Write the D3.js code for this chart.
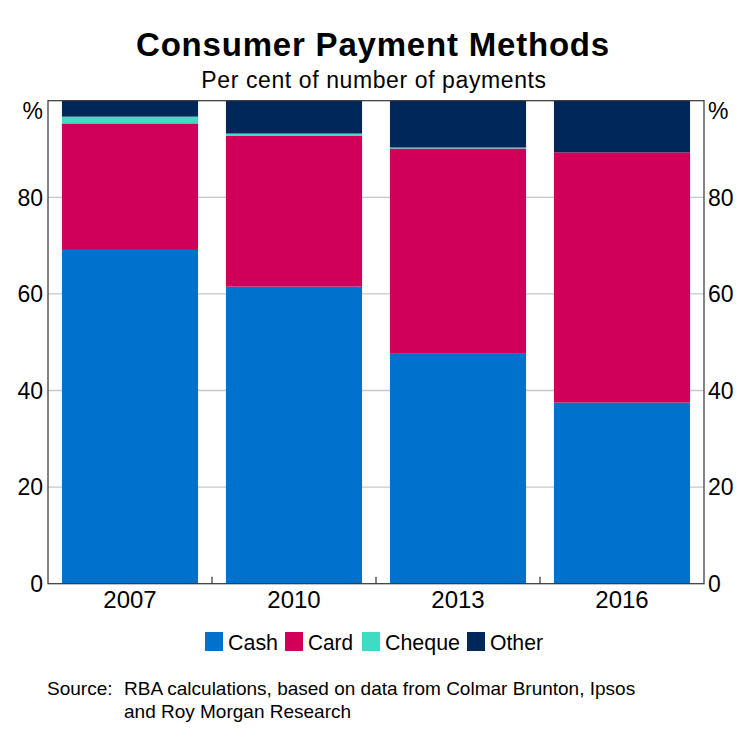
<!DOCTYPE html>
<html><head><meta charset="utf-8">
<script src="https://cdn.jsdelivr.net/npm/d3@7"></script>
<style>body{margin:0;background:#fff}svg{display:block}text{font-family:"Liberation Sans",Arial,sans-serif;fill:#000}</style>
</head><body>
<script>
const years = ["2007","2010","2013","2016"];
const seriesNames = ["Cash","Card","Cheque","Other"];
const cash   = [69.1, 61.5, 47.6, 37.5];
const card   = [26.2, 31.2, 42.5, 51.8];
const cheque = [1.4, 0.5, 0.2, 0.0];
const other  = [3.3, 6.8, 9.7, 10.7];
const yTicks = [0,20,40,60,80];
const colors = ["#0072ce","#d0005a","#3fdcc4","#00275a"];

const W=745,H=739;
const L=48,R=704,T=100.7,B=583.7;
const svg=d3.select("body").append("svg").attr("width",W).attr("height",H);

const x=d3.scaleBand().domain(years).range([L,R]).paddingInner(0.17).paddingOuter(0.085);
const y=d3.scaleLinear().domain([0,100]).range([B,T]);

const rows=years.map((yr,i)=>({year:yr,Cash:cash[i],Card:card[i],Cheque:cheque[i],Other:other[i]}));
const stack=d3.stack().keys(seriesNames)(rows);

// gridlines
svg.append("g").selectAll("line").data(yTicks.filter(d=>d>0)).join("line")
 .attr("x1",L).attr("x2",R).attr("y1",d=>y(d)).attr("y2",d=>y(d))
 .attr("stroke","#c8c8c8").attr("stroke-width",1.3);

// bars
svg.append("g").selectAll("g").data(stack).join("g").attr("fill",(d,i)=>colors[i])
 .selectAll("rect").data(d=>d).join("rect")
 .attr("x",d=>x(d.data.year)).attr("width",x.bandwidth())
 .attr("y",d=>y(d[1])).attr("height",d=>Math.max(0,y(d[0])-y(d[1])));

// frame
svg.append("rect").attr("x",L).attr("y",T).attr("width",R-L).attr("height",B-T)
 .attr("fill","none").attr("stroke","#333").attr("stroke-width",1.2);

// x ticks at band boundaries
const step=x.step();
const bounds=years.slice(1).map(yr=>x(yr)-step*x.paddingInner()/2);
svg.append("g").selectAll("line").data(bounds).join("line")
 .attr("x1",d=>d).attr("x2",d=>d).attr("y1",B).attr("y2",B-7)
 .attr("stroke","#333").attr("stroke-width",1.2);

// y labels left & right
const fs=23;
svg.append("g").selectAll("text").data(yTicks).join("text")
 .attr("x",L-5).attr("y",d=>y(d)).attr("dy","0.36em").attr("text-anchor","end")
 .attr("font-size",fs).text(d=>d);
svg.append("g").selectAll("text").data(yTicks).join("text")
 .attr("x",R+4).attr("y",d=>y(d)).attr("dy","0.36em").attr("text-anchor","start")
 .attr("font-size",fs).text(d=>d);
svg.append("text").attr("x",L-5).attr("y",119).attr("text-anchor","end").attr("font-size",fs).text("%");
svg.append("text").attr("x",R+4).attr("y",119).attr("text-anchor","start").attr("font-size",fs).text("%");

// x labels
svg.append("g").selectAll("text").data(years).join("text")
 .attr("x",d=>x(d)+x.bandwidth()/2).attr("y",608).attr("text-anchor","middle")
 .attr("font-size",24).text(d=>d);

// title
svg.append("text").attr("x",373).attr("y",56).attr("text-anchor","middle")
 .attr("font-size",33).attr("font-weight","bold").attr("letter-spacing",0.8).text("Consumer Payment Methods");
svg.append("text").attr("x",374).attr("y",88).attr("text-anchor","middle")
 .attr("font-size",23).attr("letter-spacing",0.6).text("Per cent of number of payments");

// legend
const lg=svg.append("g");
const legX=[205,285,362,467];
const legW=[50,45,75,53];
seriesNames.forEach((n,i)=>{
  lg.append("rect").attr("x",legX[i]).attr("y",632).attr("width",18).attr("height",19).attr("fill",colors[i]);
  lg.append("text").attr("x",legX[i]+23).attr("y",650).attr("font-size",22)
    .attr("textLength",legW[i]).attr("lengthAdjust","spacingAndGlyphs").text(n);
});

// source
svg.append("text").attr("x",47).attr("y",695).attr("font-size",19).text("Source:");
svg.append("text").attr("x",124).attr("y",695).attr("font-size",19).text("RBA calculations, based on data from Colmar Brunton, Ipsos");
svg.append("text").attr("x",124).attr("y",718).attr("font-size",19).text("and Roy Morgan Research");
</script>
</body></html>
